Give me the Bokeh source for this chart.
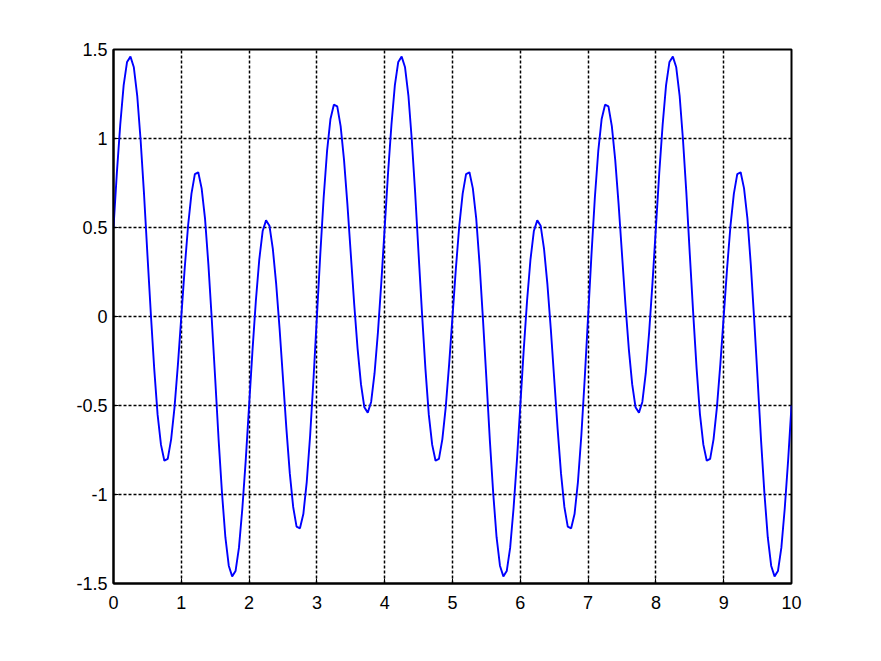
import numpy as np
from bokeh.plotting import figure
from bokeh.models import FixedTicker, CustomJSTickFormatter, Range1d
from bokeh.embed import file_html
from bokeh.resources import INLINE

# sample times (s) and signal values
t = np.linspace(0, 10, 201)
signal = [
    0.50, 0.81, 1.08, 1.30, 1.43, 1.46, 1.40, 1.24, 0.99, 0.69,
    0.35, 0.02, -0.29, -0.55, -0.72, -0.81, -0.80, -0.69, -0.51, -0.27,
    0.00, 0.27, 0.51, 0.69, 0.80, 0.81, 0.72, 0.55, 0.29, -0.02,
    -0.35, -0.69, -0.99, -1.24, -1.40, -1.46, -1.43, -1.30, -1.08, -0.81,
    -0.50, -0.19, 0.09, 0.32, 0.48, 0.54, 0.51, 0.38, 0.18, -0.07,
    -0.35, -0.63, -0.88, -1.07, -1.18, -1.19, -1.11, -0.93, -0.67, -0.35,
    0.00, 0.35, 0.67, 0.93, 1.11, 1.19, 1.18, 1.07, 0.88, 0.63,
    0.35, 0.07, -0.18, -0.38, -0.51, -0.54, -0.48, -0.32, -0.09, 0.19,
    0.50, 0.81, 1.08, 1.30, 1.43, 1.46, 1.40, 1.24, 0.99, 0.69,
    0.35, 0.02, -0.29, -0.55, -0.72, -0.81, -0.80, -0.69, -0.51, -0.27,
    0.00, 0.27, 0.51, 0.69, 0.80, 0.81, 0.72, 0.55, 0.29, -0.02,
    -0.35, -0.69, -0.99, -1.24, -1.40, -1.46, -1.43, -1.30, -1.08, -0.81,
    -0.50, -0.19, 0.09, 0.32, 0.48, 0.54, 0.51, 0.38, 0.18, -0.07,
    -0.35, -0.63, -0.88, -1.07, -1.18, -1.19, -1.11, -0.93, -0.67, -0.35,
    0.00, 0.35, 0.67, 0.93, 1.11, 1.19, 1.18, 1.07, 0.88, 0.63,
    0.35, 0.07, -0.18, -0.38, -0.51, -0.54, -0.48, -0.32, -0.09, 0.19,
    0.50, 0.81, 1.08, 1.30, 1.43, 1.46, 1.40, 1.24, 0.99, 0.69,
    0.35, 0.02, -0.29, -0.55, -0.72, -0.81, -0.80, -0.69, -0.51, -0.27,
    0.00, 0.27, 0.51, 0.69, 0.80, 0.81, 0.72, 0.55, 0.29, -0.02,
    -0.35, -0.69, -0.99, -1.24, -1.40, -1.46, -1.43, -1.30, -1.08, -0.81,
    -0.50,
]
x_ticks = [0, 1, 2, 3, 4, 5, 6, 7, 8, 9, 10]
y_ticks = [-1.5, -1, -0.5, 0, 0.5, 1, 1.5]

p = figure(
    frame_width=678, frame_height=534,
    min_border_left=113, min_border_top=49, min_border_right=82, min_border_bottom=70,
    output_backend="svg", toolbar_location=None,
    x_range=Range1d(0, 10), y_range=Range1d(-1.5, 1.5),
)
p.background_fill_color = "white"
p.border_fill_color = "white"
p.outline_line_color = "black"
p.outline_line_width = 2
p.outline_line_alpha = 1

p.line(t, signal, line_color="#0000ff", line_width=1.9)

fmt = CustomJSTickFormatter(code="return tick.toString();")
for ax, ticks in ((p.xaxis[0], x_ticks), (p.yaxis[0], y_ticks)):
    ax.ticker = FixedTicker(ticks=ticks)
    ax.formatter = fmt
    ax.axis_line_color = "black"
    ax.axis_line_width = 2
    ax.major_tick_in = 5
    ax.major_tick_out = 0
    ax.major_tick_line_color = "black"
    ax.minor_tick_line_color = None
    ax.major_label_text_font = "Liberation Sans"
    ax.major_label_text_font_size = "18px"
    ax.major_label_text_color = "black"
p.xaxis.major_label_standoff = 12
p.yaxis.major_label_standoff = 6

for g in (p.xgrid[0], p.ygrid[0]):
    g.grid_line_color = "black"
    g.grid_line_width = 1.5
    g.grid_line_dash = "3 2"
    g.grid_line_alpha = 1
p.xgrid[0].ticker = FixedTicker(ticks=x_ticks)
p.ygrid[0].ticker = FixedTicker(ticks=y_ticks)

open("out.html", "w").write(file_html(p, INLINE))
